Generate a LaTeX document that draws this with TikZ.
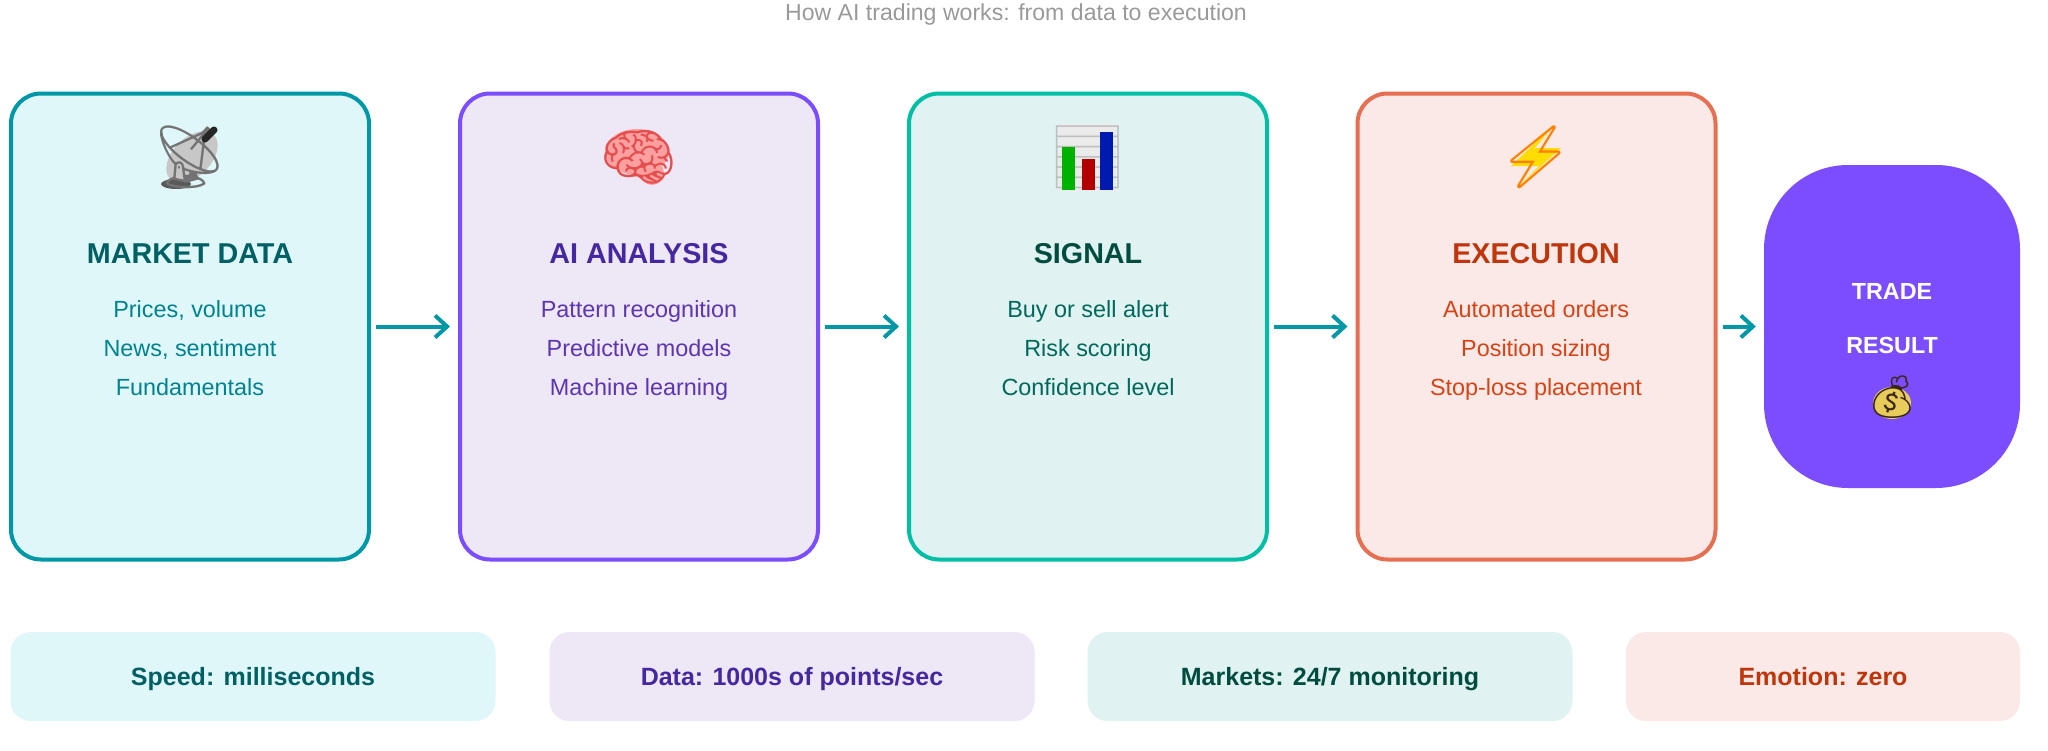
\documentclass[tikz,border=0pt]{standalone}
\usepackage{fontspec}
\setmainfont{Liberation Sans}
\newfontfamily\emojifont{Noto Emoji}
\usetikzlibrary{arrows.meta}
\definecolor{tealS}{HTML}{0097A7}\definecolor{tealF}{HTML}{E0F7FA}\definecolor{tealH}{HTML}{006064}\definecolor{tealB}{HTML}{00838F}
\definecolor{purS}{HTML}{7C4DFF}\definecolor{purF}{HTML}{EDE7F6}\definecolor{purH}{HTML}{4527A0}\definecolor{purB}{HTML}{5E35B1}
\definecolor{grnS}{HTML}{00BFA5}\definecolor{grnF}{HTML}{E0F2F1}\definecolor{grnH}{HTML}{004D40}\definecolor{grnB}{HTML}{00695C}
\definecolor{orgS}{HTML}{E76F51}\definecolor{orgF}{HTML}{FBE9E7}\definecolor{orgH}{HTML}{BF360C}\definecolor{orgB}{HTML}{D84315}
\tikzset{
 x=1pt,y=-1pt,
 card/.style={draw,line width=4pt,rounded corners=30pt,minimum width=358pt,minimum height=466pt,inner sep=0pt},
 heading/.style={anchor=base,font=\fontsize{28.7}{32}\selectfont\bfseries,inner sep=0pt},
 bodyline/.style={anchor=base,font=\fontsize{23.4}{27}\selectfont,inner sep=0pt},
 icon/.style={anchor=center,font=\fontsize{62}{66}\selectfont\emojifont,inner sep=0pt},
 strip/.style={rounded corners=20pt,minimum height=89pt,inner sep=0pt,font=\fontsize{25}{29}\selectfont\bfseries,text depth=0pt},
 flow/.style={draw=tealS,line width=4pt,-{Straight Barb[length=12pt,width=22pt,line width=4pt]},shorten <=5pt,shorten >=8pt},
}
\begin{document}
\begin{tikzpicture}
\useasboundingbox (0,0) rectangle (2048,750);
\node[anchor=center,font=\fontsize{23.1}{27}\selectfont,text=black!40,inner sep=0pt] (title) at (1016,15) {How AI trading works: from data to execution};
% cards
\node[card,draw=tealS,fill=tealF] (b1) at (190,326.5) {};
\node[card,draw=purS,fill=purF] (b2) at (639,326.5) {};
\node[card,draw=grnS,fill=grnF] (b3) at (1088,326.5) {};
\node[card,draw=orgS,fill=orgF] (b4) at (1536.5,326.5) {};
\node[draw=none,fill=purS,rounded corners=84pt,minimum width=256pt,minimum height=323pt,inner sep=0pt] (res) at (1892,326.5) {};
% icon colour fills beneath the emoji glyphs
\fill[black!22,rotate around={45:(192,157)}] (192,157) ellipse (31pt and 19pt);
\fill[black!65] (176,184) ellipse (15pt and 5pt);
\fill[pink!75!red!85!white] (637,152) ellipse (32pt and 23pt);
\fill[pink!75!red!85!white] (652,173) circle (12pt);
\fill[black!8] (1059,124) rectangle (1116,191);
\fill[yellow!80!orange] (1554,125) -- (1511,166) -- (1539,166) -- (1518,187) -- (1561,148) -- (1535,148) -- cycle;
\fill[yellow!50!brown!80!white] (1892,403) ellipse (19pt and 16pt);
% icons
\node[icon,text=black!55] (i1) at (190,157) {\char"1F4E1};
\node[icon,text=pink!45!red!90!black] (i2) at (639,157) {\char"1F9E0};
\node[icon,text=black!25] (i3) at (1088,157) {\char"1F4CA};
\node[icon,text=orange] (i4) at (1536,157) {\char"26A1};
\draw[black!85,line width=7pt,line cap=round] (205,139) -- (214,130);
\fill[green!70!black] (1062,147) rectangle (1075,190);
\fill[red!70!black] (1081.5,159) rectangle (1094.5,190);
\fill[blue!65!black!90!cyan] (1100,132) rectangle (1113,190);
% text
\node[heading,text=tealH] (h1) at (190,263) {MARKET DATA};
\node[bodyline,text=tealB] (a1) at (190,317.5) {Prices, volume};
\node[bodyline,text=tealB] (a2) at (190,356.5) {News, sentiment};
\node[bodyline,text=tealB] (a3) at (190,395.5) {Fundamentals};
\node[heading,text=purH] (h2) at (639,263) {AI ANALYSIS};
\node[bodyline,text=purB] (c1) at (639,317.5) {Pattern recognition};
\node[bodyline,text=purB] (c2) at (639,356.5) {Predictive models};
\node[bodyline,text=purB] (c3) at (639,395.5) {Machine learning};
\node[heading,text=grnH] (h3) at (1088,263) {SIGNAL};
\node[bodyline,text=grnB] (d1) at (1088,317.5) {Buy or sell alert};
\node[bodyline,text=grnB] (d2) at (1088,356.5) {Risk scoring};
\node[bodyline,text=grnB] (d3) at (1088,395.5) {Confidence level};
\node[heading,text=orgH] (h4) at (1536,263) {EXECUTION};
\node[bodyline,text=orgB] (e1) at (1536,317.5) {Automated orders};
\node[bodyline,text=orgB] (e2) at (1536,356.5) {Position sizing};
\node[bodyline,text=orgB] (e3) at (1536,395.5) {Stop-loss placement};
\node[anchor=base,font=\fontsize{23.3}{27}\selectfont\bfseries,text=white,inner sep=0pt] (r1) at (1892,299) {TRADE};
\node[anchor=base,font=\fontsize{23.3}{27}\selectfont\bfseries,text=white,inner sep=0pt] (r2) at (1892,353) {RESULT};
\node[anchor=center,font=\fontsize{42}{46}\selectfont\emojifont,text=black!70!brown,inner sep=0pt] (r3) at (1892,397) {\char"1F4B0};
% arrows
\draw[flow] (b1) -- (b2);
\draw[flow] (b2) -- (b3);
\draw[flow] (b3) -- (b4);
\draw[flow] (b4) -- (res);
% strips
\node[strip,fill=tealF,text=tealH,minimum width=485pt] (s1) at (253,676.5) {Speed: milliseconds};
\node[strip,fill=purF,text=purH,minimum width=485pt] (s2) at (792,676.5) {Data: 1000s of points/sec};
\node[strip,fill=grnF,text=grnH,minimum width=485pt] (s3) at (1330,676.5) {Markets: 24/7 monitoring};
\node[strip,fill=orgF,text=orgH,minimum width=394pt] (s4) at (1823,676.5) {Emotion: zero};
\end{tikzpicture}
\end{document}
